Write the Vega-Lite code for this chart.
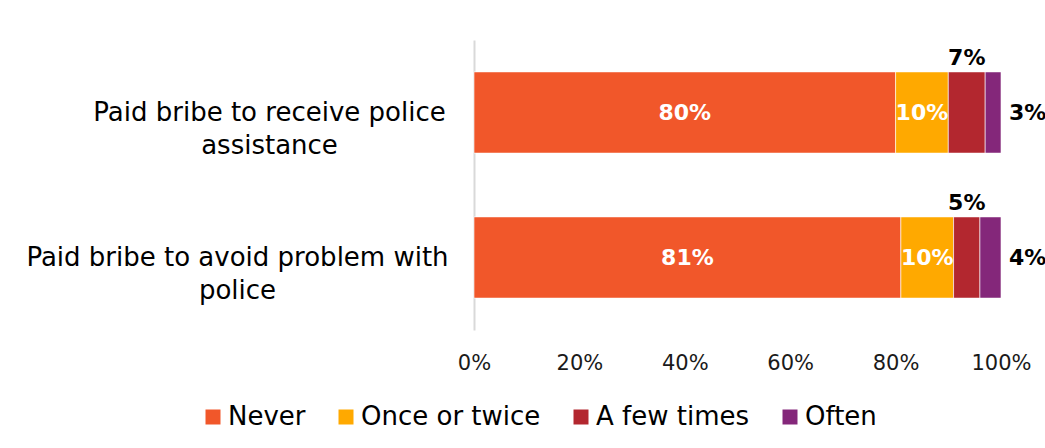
{
  "$schema": "https://vega.github.io/schema/vega-lite/v6.json",
  "width": 527,
  "height": 290,
  "autosize": {"type": "none"},
  "padding": {"left": 474, "top": 40, "right": 44, "bottom": 118},
  "background": "white",
  "config": {"view": {"stroke": null}, "font": "DejaVu Sans"},
  "data": {"values": [
    {"q": "Paid bribe to receive police assistance", "freq": "Never", "k": 1, "value": 80},
    {"q": "Paid bribe to receive police assistance", "freq": "Once or twice", "k": 2, "value": 10},
    {"q": "Paid bribe to receive police assistance", "freq": "A few times", "k": 3, "value": 7},
    {"q": "Paid bribe to receive police assistance", "freq": "Often", "k": 4, "value": 3},
    {"q": "Paid bribe to avoid problem with police", "freq": "Never", "k": 1, "value": 81},
    {"q": "Paid bribe to avoid problem with police", "freq": "Once or twice", "k": 2, "value": 10},
    {"q": "Paid bribe to avoid problem with police", "freq": "A few times", "k": 3, "value": 5},
    {"q": "Paid bribe to avoid problem with police", "freq": "Often", "k": 4, "value": 4}
  ]},
  "transform": [
    {"stack": "value", "groupby": ["q"], "sort": [{"field": "k", "order": "ascending"}], "as": ["v0", "v1"]},
    {"calculate": "(datum.v0 + datum.v1) / 2", "as": "mid"},
    {"calculate": "datum.value + '%'", "as": "lbl"}
  ],
  "encoding": {
    "y": {
      "field": "q",
      "type": "nominal",
      "sort": ["Paid bribe to receive police assistance", "Paid bribe to avoid problem with police"],
      "scale": {"paddingInner": 0.44, "paddingOuter": 0.22},
      "axis": {
        "title": null,
        "ticks": false,
        "domainColor": "#D9D9D9",
        "domainWidth": 2,
        "labelFontSize": 26,
        "labelColor": "#000000",
        "labelPadding": {"condition": {"test": "datum.value == 'Paid bribe to receive police assistance'", "value": 205}, "value": 237},
        "labelLimit": 0,
        "labelLineHeight": 33,
        "labelAlign": "center",
        "labelExpr": "datum.value == 'Paid bribe to receive police assistance' ? ['Paid bribe to receive police', 'assistance'] : ['Paid bribe to avoid problem with', 'police']"
      }
    }
  },
  "layer": [
    {
      "mark": {"type": "bar", "stroke": "white", "strokeWidth": 0.6},
      "encoding": {
        "x": {
          "field": "v0",
          "type": "quantitative",
          "scale": {"domain": [0, 100], "nice": false},
          "axis": {
            "title": null,
            "values": [0, 20, 40, 60, 80, 100],
            "grid": false,
            "ticks": false,
            "domain": false,
            "labelFlush": false,
            "labelFontSize": 21,
            "labelColor": "#1a1a1a",
            "labelPadding": 22,
            "labelExpr": "datum.value + '%'"
          }
        },
        "x2": {"field": "v1"},
        "color": {
          "field": "freq",
          "type": "nominal",
          "scale": {
            "domain": ["Never", "Once or twice", "A few times", "Often"],
            "range": ["#F1572A", "#FFA900", "#B3272F", "#84277A"]
          },
          "legend": {
            "title": null,
            "orient": "none",
            "direction": "horizontal",
            "legendX": -274,
            "legendY": 364,
            "symbolType": "square",
            "symbolSize": 225,
            "symbolStrokeWidth": 0,
            "labelFontSize": 26,
            "labelColor": "#000000",
            "labelOffset": 2,
            "columnPadding": 27,
            "labelLimit": 0
          }
        }
      }
    },
    {
      "transform": [{"filter": "datum.k <= 2"}],
      "mark": {"type": "text", "color": "white", "fontWeight": "bold", "fontSize": 22},
      "encoding": {
        "x": {"field": "mid", "type": "quantitative"},
        "text": {"field": "lbl"}
      }
    },
    {
      "transform": [{"filter": "datum.k == 3"}],
      "mark": {"type": "text", "color": "black", "fontWeight": "bold", "fontSize": 22, "baseline": "bottom", "dy": -2},
      "encoding": {
        "x": {"field": "mid", "type": "quantitative"},
        "y": {"field": "q", "type": "nominal", "sort": ["Paid bribe to receive police assistance", "Paid bribe to avoid problem with police"], "bandPosition": 0},
        "text": {"field": "lbl"}
      }
    },
    {
      "transform": [{"filter": "datum.k == 4"}],
      "mark": {"type": "text", "color": "black", "fontWeight": "bold", "fontSize": 22, "align": "left", "dx": 8},
      "encoding": {
        "x": {"field": "v1", "type": "quantitative"},
        "text": {"field": "lbl"}
      }
    }
  ]
}
